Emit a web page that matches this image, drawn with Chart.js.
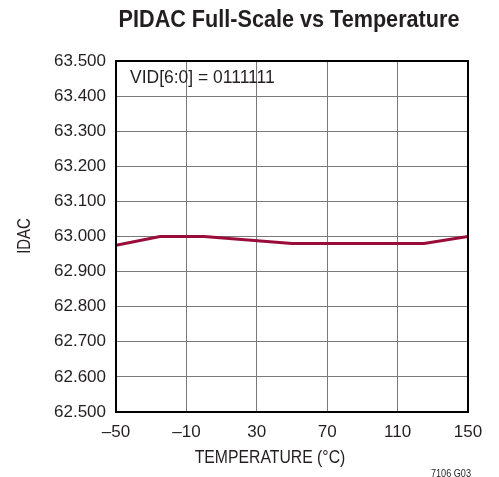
<!DOCTYPE html>
<html>
<head>
<meta charset="utf-8">
<script src="https://cdn.jsdelivr.net/npm/chart.js@4/dist/chart.umd.min.js"></script>
<style>
html,body{margin:0;padding:0;background:#fff;}
#wrap{width:499px;height:477px;position:relative;}
</style>
</head>
<body>
<div id="wrap"><canvas id="c" width="499" height="477"></canvas></div>
<script>
const temperatures = [-50, -25, 0, 25, 50, 75, 100, 125, 150];
const idacValues = [62.975, 63.000, 63.000, 62.990, 62.980, 62.980, 62.980, 62.980, 63.000];
const xTicks = [-50, -10, 30, 70, 110, 150];
const yTicks = [62.5, 62.6, 62.7, 62.8, 62.9, 63.0, 63.1, 63.2, 63.3, 63.4, 63.5];
const titleText = 'PIDAC Full-Scale vs Temperature';
const xTitle = 'TEMPERATURE (°C)';
const yTitle = 'IDAC';
const noteText = 'VID[6:0] = 0111111';
const footText = '7106 G03';

const FONT = '"Liberation Sans", Arial, sans-serif';

function condensedText(ctx, text, x, y, sx, align) {
  ctx.save();
  ctx.translate(x, y);
  ctx.scale(sx, 1);
  ctx.textAlign = align;
  ctx.fillText(text, 0, 0);
  ctx.restore();
}

const extras = {
  id: 'extras',
  afterDraw(chart) {
    const ctx = chart.ctx, a = chart.chartArea;
    ctx.save();
    ctx.fillStyle = '#231f20';
    ctx.textBaseline = 'middle';
    ctx.font = 'bold 23px ' + FONT;
    condensedText(ctx, titleText, 289, 21, 0.94, 'center');
    ctx.font = '19px ' + FONT;
    condensedText(ctx, xTitle, 270, 458, 0.83, 'center');
    condensedText(ctx, noteText, 130, 78, 0.92, 'left');
    ctx.font = '11px ' + FONT;
    condensedText(ctx, footText, 471, 474, 0.83, 'right');
    ctx.translate(25, 236);
    ctx.rotate(-Math.PI / 2);
    ctx.font = '18px ' + FONT;
    condensedText(ctx, yTitle, 0, 0, 0.83, 'center');
    ctx.restore();
    ctx.save();
    ctx.strokeStyle = '#000';
    ctx.lineWidth = 2;
    ctx.strokeRect(a.left, a.top, a.right - a.left, a.bottom - a.top);
    ctx.restore();
  }
};

new Chart(document.getElementById('c'), {
  type: 'line',
  data: {
    datasets: [{
      data: temperatures.map((t, i) => ({x: t, y: idacValues[i]})),
      borderColor: '#9a0c3a',
      borderWidth: 3,
      pointRadius: 0,
      tension: 0,
      fill: false
    }]
  },
  options: {
    responsive: false,
    animation: false,
    devicePixelRatio: 1,
    layout: {padding: {top: 61, right: 31, left: 0, bottom: 0}},
    plugins: {legend: {display: false}, tooltip: {enabled: false}, title: {display: false}},
    scales: {
      x: {
        type: 'linear', min: -50, max: 150,
        afterBuildTicks(s) { s.ticks = xTicks.map(v => ({value: v})); },
        afterFit(s) { s.height = 65; },
        grid: {color: '#7a7a7a', lineWidth: 1, drawTicks: false},
        border: {display: false},
        ticks: {
          color: '#231f20', padding: 10, maxRotation: 0,
          font: {family: FONT, size: 17},
          callback: v => (v < 0 ? '\u2013' + Math.abs(v) : String(v))
        }
      },
      y: {
        type: 'linear', min: 62.5, max: 63.5,
        afterBuildTicks(s) { s.ticks = yTicks.map(v => ({value: v})); },
        afterFit(s) { s.width = 116; },
        grid: {color: '#7a7a7a', lineWidth: 1, drawTicks: false},
        border: {display: false},
        ticks: {
          color: '#231f20', padding: 10,
          font: {family: FONT, size: 17},
          callback: v => Number(v).toFixed(3)
        }
      }
    }
  },
  plugins: [extras]
});
</script>
</body>
</html>
